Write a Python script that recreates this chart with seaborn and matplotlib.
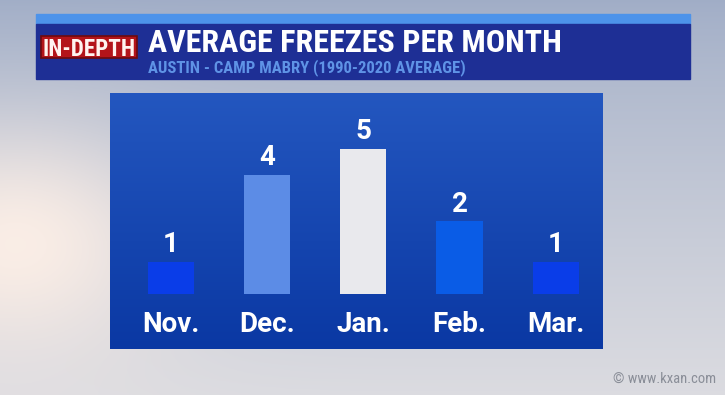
import numpy as np
import pandas as pd
import matplotlib.pyplot as plt
import seaborn as sns
from matplotlib.patches import Rectangle

# Chart data
months = ["Nov.", "Dec.", "Jan.", "Feb.", "Mar."]
freezes = [1.1, 4.1, 5.0, 2.5, 1.1]          # bar heights as drawn
freeze_labels = ["1", "4", "5", "2", "1"]     # rounded values shown on the bars
bar_colors = ["#0a3de8", "#5c8ce6", "#e9e9ed", "#0a5ce6", "#0a3de8"]

title = "AVERAGE FREEZES PER MONTH"
subtitle = "AUSTIN - CAMP MABRY (1990-2020 AVERAGE)"
tag = "IN-DEPTH"
credit = "© www.kxan.com"

df = pd.DataFrame({"month": months, "freezes": freezes})

sns.set_theme(style="white")
plt.rcParams['font.family'] = ['Roboto Condensed', 'Liberation Sans Narrow',
                               'DejaVu Sans Condensed', 'Roboto', 'DejaVu Sans']
label_font = ['Roboto', 'DejaVu Sans']

W, H = 725, 395
fig = plt.figure(figsize=(W / 100, H / 100), dpi=100)


def fbox(x0, y0, x1, y1):
    # pixel box, origin top-left -> figure fraction rect
    return [x0 / W, 1 - y1 / H, (x1 - x0) / W, (y1 - y0) / H]


def fit_width(txt, target):
    # shrink a text so it spans about `target` pixels
    r = fig.canvas.get_renderer()
    w = txt.get_window_extent(r).width
    if w > target:
        txt.set_fontsize(txt.get_fontsize() * target / w)


# Sky backdrop
deco = fig.add_axes([0, 0, 1, 1])
deco.set_xlim(0, W)
deco.set_ylim(H, 0)
deco.axis('off')
yy, xx = np.mgrid[0:1:200j, 0:1:360j]
top = np.array([0.63, 0.68, 0.78])
bottom = np.array([0.86, 0.86, 0.88])
sky = top + (bottom - top) * yy[..., None] ** 0.8
glow = np.exp(-(((xx - 0.02) / 0.22) ** 2 + ((yy - 0.62) / 0.3) ** 2))
sky = sky + (np.array([0.98, 0.93, 0.90]) - sky) * glow[..., None]
deco.imshow(np.clip(sky, 0, 1), extent=(0, W, H, 0), aspect='auto', zorder=0)

# Header banner
deco.add_patch(Rectangle((36, 14), 654, 10, color="#4d93ea", zorder=1))
deco.add_patch(Rectangle((36, 24), 654, 55, color="#1e2f95", zorder=1))
deco.add_patch(Rectangle((41, 36), 96, 22, facecolor="#b3141a",
                         edgecolor="#6e0a0e", lw=1.2, zorder=2))
t_tag = deco.text(89, 56, tag, ha='center', va='baseline', color="#fff4f0",
                  fontsize=18.5, fontweight='bold', zorder=3)
t_title = deco.text(148, 52, title, ha='left', va='baseline', color="white",
                    fontsize=23, fontweight='bold', zorder=3)
t_sub = deco.text(148, 72, subtitle, ha='left', va='baseline', color="#5f93e6",
                  fontsize=12, fontweight='bold', zorder=3)
deco.text(716, 383, credit, ha='right', va='baseline', color="#8a8e98",
          fontsize=10.5, zorder=3)
fit_width(t_tag, 93)
fit_width(t_title, 422)
fit_width(t_sub, 320)

# Bar panel
ax = fig.add_axes(fbox(110, 93, 603, 349))
grad = np.linspace(0, 1, 100)[:, None]
c0 = np.array([0.14, 0.34, 0.75])
c1 = np.array([0.04, 0.22, 0.64])
panel = c0 + (c1 - c0) * grad[..., None]
ax.imshow(panel, extent=(0, 1, 0, 1), transform=ax.transAxes,
          aspect='auto', zorder=0)

sns.barplot(data=df, x="month", y="freezes", hue="month", palette=bar_colors,
            width=0.48, saturation=1, legend=False, ax=ax, zorder=2,
            linewidth=0, edgecolor="none")

for i, (m, v, lab) in enumerate(zip(months, freezes, freeze_labels)):
    ax.text(i, v + 0.34, lab, ha='center', va='baseline', color='white',
            fontsize=20, fontweight='bold', family=label_font, zorder=3)
    ax.text(i, -1.31, m, ha='center', va='baseline', color='white',
            fontsize=20, fontweight='bold', family=label_font, zorder=3)

ax.set_xlim(-0.63, 4.49)
ax.set_ylim(-1.9, 6.93)
ax.set_xticks([])
ax.set_yticks([])
ax.set_xlabel("")
ax.set_ylabel("")
for s in ax.spines.values():
    s.set_visible(False)

fig.savefig("out.png", dpi=100)
